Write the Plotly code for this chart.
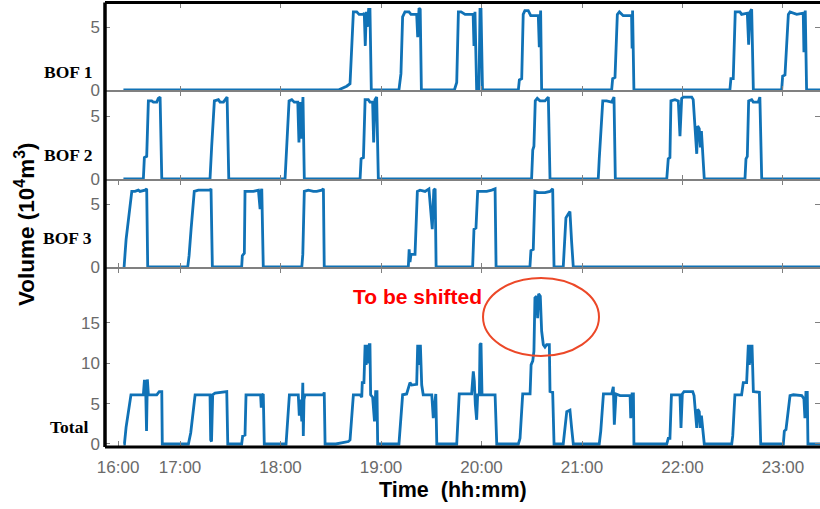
import plotly.graph_objects as go

# Time axis: minutes after 16:00
# ---- BOF 1 gas volume (10^4 m^3) ----
bof1_t = [26.2,
          154.5, 159.5, 161.5, 163.5, 165.5, 166.9, 169.4, 170.0, 170.6, 171.2, 171.8, 172.6, 173.4, 174.2,
          190.7, 191.9, 192.9, 194.3, 196.7, 197.9, 201.3, 201.9, 202.7, 203.4, 204.1,
          223.8, 225.2, 226.2, 227.8, 230.2, 235.0, 235.5, 236.1, 237.1, 238.5, 239.1, 239.7, 240.6,
          262.0, 262.6, 264.0, 264.9, 265.9, 267.9, 269.4, 273.9, 274.5, 275.3, 275.9,
          317.7, 318.3, 319.7, 321.1, 322.3, 324.6, 329.6, 329.9, 330.2, 331.0,
          388.3, 388.9, 390.3, 391.5, 394.3, 395.3, 398.7, 399.5, 400.3, 401.3, 402.3,
          419.2, 419.8, 421.2, 423.2, 424.2, 428.2, 432.1, 432.5, 433.3, 434.1,
          442.6]
bof1_v = [0,
          0, 0.3, 0.5, 6.2, 6.2, 6.0, 6.0, 6.1, 3.5, 6.2, 5.0, 6.4, 6.4, 0,
          0, 1.3, 5.8, 6.2, 6.2, 6.0, 6.0, 4.2, 6.5, 6.4, 0,
          0, 0.6, 6.2, 6.2, 6.0, 6.0, 3.5, 6.2, 0, 0, 6.4, 6.4, 0,
          0, 0.8, 0.9, 6.0, 6.3, 6.3, 5.9, 5.9, 3.4, 6.3, 0,
          0, 0.9, 1.0, 6.0, 6.2, 5.9, 5.9, 3.3, 6.3, 0,
          0, 0.9, 0.9, 6.2, 6.2, 6.0, 6.1, 3.6, 6.2, 6.4, 0,
          0, 1.1, 1.2, 6.0, 6.2, 6.0, 6.1, 3.0, 6.3, 0,
          0]

# ---- BOF 2 ----
bof2_t = [26.2,
          38.1, 38.7, 40.1, 41.1, 43.1, 44.1, 46.1, 47.0, 48.1, 49.1,
          77.9, 78.9, 80.5, 82.9, 83.9, 85.9, 87.3, 88.1, 89.1,
          122.7, 125.1, 126.7, 128.2, 130.3, 131.0, 131.8, 132.2, 133.0, 133.4, 134.2,
          167.5, 168.1, 169.5, 170.5, 172.4, 173.4, 175.0, 175.6, 176.4, 177.4, 178.4,
          269.9, 270.6, 271.3, 272.1, 273.3, 274.9, 277.9, 278.9, 279.9, 280.9,
          309.7, 310.3, 312.4, 314.7, 317.7, 319.1, 319.9,
          350.6, 351.5, 352.5, 353.1, 355.5, 357.5, 358.5, 359.5, 360.5, 365.5, 366.4,
          367.5, 368.5, 369.1, 370.0, 370.7, 371.3, 373.0,
          397.3, 397.9, 398.7, 399.5, 401.3, 402.3, 405.2, 406.2, 407.3,
          442.6]
bof2_v = [0,
          0, 1.7, 1.8, 6.2, 6.2, 6.1, 6.1, 6.4, 6.5, 0,
          0, 2.6, 6.2, 6.3, 6.1, 6.1, 6.4, 6.5, 0,
          0, 6.2, 6.3, 6.1, 6.1, 2.9, 6.1, 3.2, 6.4, 6.5, 0,
          0, 1.6, 1.7, 6.3, 6.3, 6.1, 6.1, 2.9, 6.3, 6.5, 0,
          0, 2.3, 2.6, 6.2, 6.4, 6.2, 6.2, 6.4, 6.5, 0,
          0, 1.6, 6.2, 6.2, 6.1, 6.5, 0,
          0, 1.6, 1.7, 6.2, 6.3, 6.2, 3.4, 6.4, 6.5, 6.5, 6.3,
          4.2, 2.0, 4.2, 4.0, 2.5, 3.8, 0,
          0, 1.6, 1.8, 6.2, 6.3, 6.1, 6.1, 6.5, 0,
          0]

# ---- BOF 3 ----
bof3_t = [26.2,
          26.6, 27.8, 29.1, 31.2, 33.1, 35.1, 36.1, 39.1, 40.1, 40.7,
          64.6, 65.4, 66.6, 68.5, 70.9, 74.9, 77.9, 78.5, 79.3,
          96.8, 97.2, 98.4, 98.8, 100.8, 103.8, 106.8, 107.8, 108.3, 108.8, 109.7,
          132.7, 133.3, 134.2, 136.6, 139.6, 141.6, 144.6, 145.6, 146.1,
          196.3, 196.8, 197.3, 197.9, 200.3, 201.7, 203.3, 206.3, 208.6, 209.8, 210.6, 211.5, 212.3, 212.9,
          234.7, 235.5, 236.7, 237.7, 240.1, 243.1, 246.1, 248.1, 248.7,
          268.9, 269.5, 270.9, 271.9, 273.9, 277.9, 280.9, 282.5, 283.3,
          288.8, 290.4, 291.8, 292.8, 293.8, 294.8,
          442.6]
bof3_v = [0,
          0, 2.2, 3.8, 6.0, 6.0, 6.1, 6.0, 6.1, 6.2, 0,
          0, 0.9, 3.0, 6.0, 6.1, 6.1, 6.1, 6.2, 0,
          0, 0.9, 1.1, 6.0, 6.0, 6.0, 6.1, 4.6, 6.0, 6.2, 0,
          0, 1.0, 6.0, 6.1, 6.0, 6.0, 6.1, 6.2, 0,
          0, 1.4, 0.4, 1.0, 1.0, 6.0, 6.1, 6.0, 6.2, 4.5, 3.0, 6.1, 6.2, 0,
          0, 3.0, 3.1, 6.0, 6.0, 6.0, 6.1, 6.2, 0,
          0, 1.3, 1.4, 6.0, 5.9, 5.9, 6.0, 6.2, 0,
          0, 3.9, 4.2, 4.4, 2.0, 0,
          0]

# ---- Total of the three converters ----
total_t = [26.2,
           26.8, 27.8, 30.7, 38.1, 38.7, 39.4, 40.0, 40.5, 41.1, 46.1, 47.6, 49.1, 49.4,
           65.0, 66.4, 69.0, 77.9, 78.3, 78.8, 79.5, 80.9, 87.9, 88.5,
           96.8, 97.4, 98.8, 99.4, 108.1, 108.5, 109.1, 109.7, 110.3,
           123.3, 125.3, 130.6, 131.2, 131.9, 132.7, 133.0, 133.3, 133.6, 134.0, 134.6, 145.6, 146.1, 146.6,
           153.0, 160.5, 161.5, 163.5, 167.5, 168.5, 168.8, 169.8, 170.5, 171.1, 171.7, 172.2, 173.0, 173.4,
           173.8, 175.0, 176.1, 176.8, 177.6, 178.0,
           190.7, 191.9, 192.9, 195.3, 196.3, 197.3, 198.3, 201.3, 201.9, 202.7, 203.5, 204.3, 205.2,
           210.3, 211.2, 212.7, 213.3,
           225.2, 226.7, 234.1, 235.1, 235.7, 236.3, 237.1, 237.7, 238.7, 239.1, 239.7, 240.3, 248.1, 249.1,
           262.0, 263.0, 264.6, 269.0, 269.6, 270.6, 271.3, 271.9, 272.9, 273.5, 274.1, 275.1, 275.9,
           276.9, 277.9, 278.9, 280.5, 280.9, 282.5, 283.3,
           288.8, 290.9, 292.8, 293.8, 294.8,
           310.3, 311.2, 312.8, 317.7, 318.7, 319.3, 320.3, 322.7, 328.7, 329.1, 329.9, 330.7, 331.0,
           350.6, 351.5, 352.5, 353.4, 358.5, 359.1, 359.9, 360.9, 366.1, 366.9, 367.5, 368.5, 369.1,
           370.0, 370.6, 371.3, 373.0,
           389.4, 390.0, 391.3, 395.3, 396.3, 398.3, 399.3, 399.9, 400.5, 401.1, 401.5, 401.9, 402.3,
           405.9, 406.7,
           420.2, 420.8, 421.8, 424.2, 426.2, 431.2, 432.5, 433.1, 433.7, 434.5, 434.9,
           442.6]
total_v = [0,
           0, 2.1, 6.1, 6.1, 7.8, 7.8, 1.6, 8.0, 6.1, 6.1, 6.5, 6.5, 0,
           0, 1.4, 6.1, 6.1, 0.5, 0.3, 6.1, 6.3, 6.5, 0,
           0, 1.0, 1.1, 6.1, 6.1, 4.5, 6.1, 6.2, 0,
           0, 6.1, 6.1, 3.5, 5.5, 2.8, 5.0, 7.6, 1.0, 5.5, 6.1, 6.1, 6.4, 0,
           0, 0.3, 0.5, 6.1, 6.1, 5.8, 7.6, 7.6, 12.3, 9.8, 12.3, 10.0, 12.3, 12.3,
           6.1, 5.8, 2.8, 6.5, 6.5, 0,
           0, 3.2, 6.1, 6.2, 6.9, 7.6, 7.3, 7.4, 12.3, 9.8, 12.3, 7.3, 6.1,
           6.1, 3.2, 6.2, 0,
           0, 6.2, 6.2, 9.0, 7.8, 4.9, 3.0, 6.1, 6.1, 12.3, 12.5, 6.1, 6.1, 0,
           0, 0.7, 6.2, 6.2, 9.8, 10.3, 11.5, 18.1, 18.3, 15.6, 18.6, 18.3, 14.0,
           12.3, 12.0, 12.3, 12.3, 6.5, 6.4, 0,
           0, 4.0, 4.2, 2.0, 0,
           0, 1.6, 6.2, 6.2, 7.1, 2.4, 6.2, 6.0, 6.0, 3.2, 6.2, 6.2, 0,
           0, 0.7, 0.7, 6.1, 6.1, 2.0, 6.2, 6.5, 6.5, 6.0, 4.5, 2.0, 4.3,
           4.0, 2.0, 3.5, 0,
           0, 1.0, 6.1, 6.1, 7.6, 7.6, 12.3, 9.8, 12.3, 10.0, 12.3, 9.5, 6.5,
           6.4, 0,
           0, 1.6, 1.8, 6.0, 6.1, 6.0, 5.6, 3.2, 6.4, 6.4, 0,
           0]

panel_names = ["BOF 1", "BOF 2", "BOF 3", "Total"]
tick_pos = [23, 60, 120, 180, 240, 300, 360, 420]
tick_text = ["16:00", "17:00", "18:00", "19:00", "20:00", "21:00", "22:00", "23:00"]
y_ticks = [[0, 5], [0, 5], [0, 5], [0, 5, 10, 15]]

LINE = "#1072b6"
GRID = "#808080"
SANS = "Liberation Sans, Arial, sans-serif"
SERIF = "Liberation Serif, Times New Roman, serif"

# panel layout (fractions of the plot area, bottom = 0)
domains = [[0.80135, 1.0], [0.60045, 0.80135], [0.40181, 0.60045], [0.0, 0.40181]]
y_ranges = [[-0.079, 6.905], [-0.079, 6.984], [-0.079, 6.905], [-0.248, 21.81]]
x_range = [15.2, 442.1]

series = [(bof1_t, bof1_v), (bof2_t, bof2_v), (bof3_t, bof3_v), (total_t, total_v)]

fig = go.Figure()
for i, (t, v) in enumerate(series, start=1):
    sfx = "" if i == 1 else str(i)
    fig.add_trace(go.Scatter(x=t, y=v, mode="lines", line=dict(color=LINE, width=2.8),
                             xaxis="x" + sfx, yaxis="y" + sfx, showlegend=False,
                             hoverinfo="skip"))

layout = dict(
    width=820, height=509,
    margin=dict(l=105, r=0, t=3, b=63),
    paper_bgcolor="white", plot_bgcolor="white",
    showlegend=False,
)
for i in range(1, 5):
    sfx = "" if i == 1 else str(i)
    tv = tick_pos if i >= 3 else tick_pos[1:]
    tt = tick_text if i >= 3 else tick_text[1:]
    layout["xaxis" + sfx] = dict(
        domain=[0, 1], range=x_range, anchor="y" + sfx,
        tickmode="array", tickvals=tv, ticktext=tt,
        showticklabels=(i == 4),
        ticks="inside", ticklen=5, tickwidth=1, tickcolor=GRID,
        showline=True, linecolor=GRID, linewidth=1, mirror="allticks",
        showgrid=False, zeroline=False,
        tickfont=dict(family=SANS, size=17, color="#6a6a6a"),
        ticklabelstandoff=6,
    )
    layout["yaxis" + sfx] = dict(
        domain=domains[i - 1], range=y_ranges[i - 1], anchor="x" + sfx,
        tickmode="array", tickvals=y_ticks[i - 1],
        ticks="inside", ticklen=5, tickwidth=1, tickcolor=GRID,
        showline=False, mirror="ticks",
        showgrid=False, zeroline=False,
        tickfont=dict(family=SANS, size=17, color="#6a6a6a"),
        ticklabelstandoff=4,
    )
fig.update_layout(**layout)

# panel names
label_y = [0.8442, 0.6569, 0.4695, 0.0429]
label_x = [-0.0154, -0.0154, -0.0154, -0.021]
for name, lx, ly in zip(panel_names, label_x, label_y):
    fig.add_annotation(text="<b>%s</b>" % name, xref="paper", yref="paper", x=lx, y=ly,
                       xanchor="right", yanchor="middle", showarrow=False,
                       font=dict(family=SERIF, size=17.5, color="black"))

# axis titles
fig.add_annotation(text="<b>Volume (10<sup>4</sup>m<sup>3</sup>)</b>", xref="paper", yref="paper",
                   x=-0.1119, y=0.5011, textangle=-90, showarrow=False,
                   xanchor="center", yanchor="middle",
                   font=dict(family=SANS, size=22.5, color="black"))
fig.add_annotation(text="<b>Time  (hh:mm)</b>", xref="paper", yref="paper",
                   x=0.4867, y=-0.0993, showarrow=False, xanchor="center", yanchor="middle",
                   font=dict(family=SANS, size=21.5, color="black"))

# highlighted peak
fig.add_annotation(text="<b>To be shifted</b>", xref="paper", yref="paper",
                   x=0.4364, y=0.3386, showarrow=False, xanchor="center", yanchor="middle",
                   font=dict(family=SANS, size=21, color="#ff0000"))
fig.add_shape(type="circle", xref="paper", yref="paper",
              x0=0.5287, x1=0.6909, y0=0.2032, y1=0.3792,
              line=dict(color="rgb(236,72,40)", width=2), layer="above")

# heavy outer frame: left, top, bottom
fig.add_shape(type="line", xref="paper", yref="paper", x0=0, x1=0, y0=-0.0023, y1=1.0011,
              line=dict(color="black", width=3.5), layer="above")
fig.add_shape(type="line", xref="paper", yref="paper", x0=0, x1=1, y0=1.0011, y1=1.0011,
              line=dict(color="black", width=3), layer="above")
fig.add_shape(type="line", xref="paper", yref="paper", x0=0, x1=1, y0=-0.0023, y1=-0.0023,
              line=dict(color="black", width=3), layer="above")

fig.write_html("out.html")
